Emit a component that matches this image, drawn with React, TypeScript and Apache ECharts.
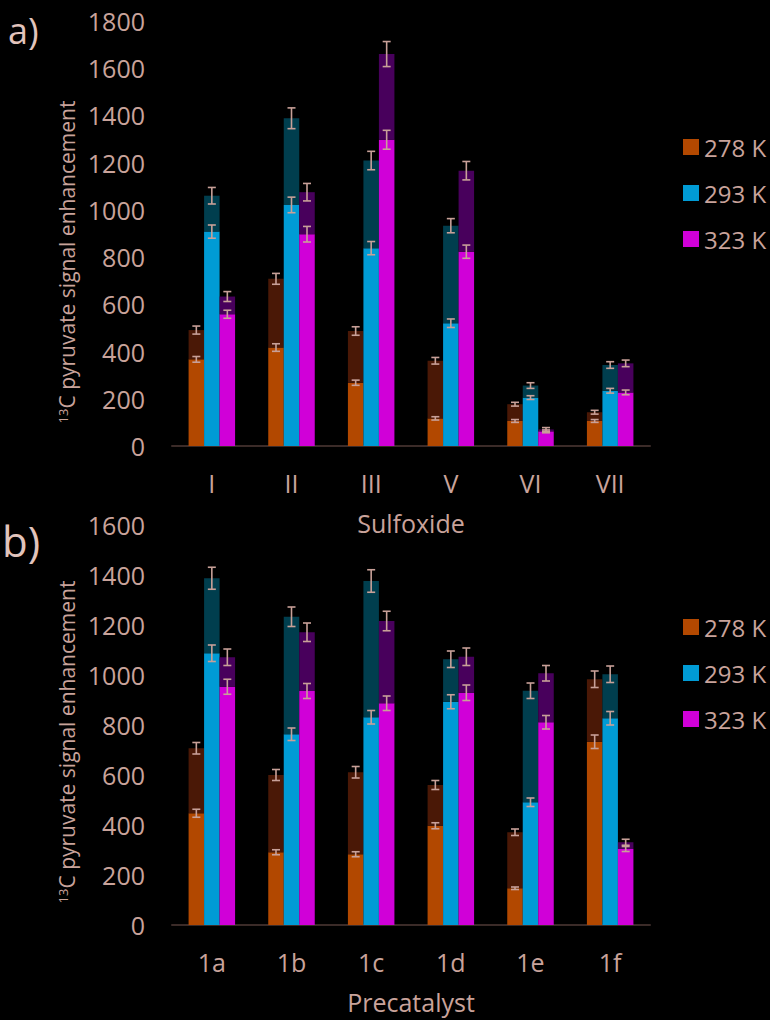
import React, { useEffect, useRef } from "react";
import * as echarts from "echarts";

// ---------- data ----------
const sulfoxides = ["I", "II", "III", "V", "VI", "VII"];
const precatalysts = ["1a", "1b", "1c", "1d", "1e", "1f"];
const temps = ["278 K", "293 K", "323 K"];

// Panel a (sulfoxide) – lower (bright) part and total (dark top) with errors
const aLow278 = [367, 417, 268, 117, 106, 106];
const aLow278Err = [12, 16, 11, 7, 6, 6];
const aTot278 = [491, 708, 487, 361, 177, 143];
const aTot278Err = [17, 23, 18, 14, 8, 8];

const aLow293 = [908, 1021, 838, 520, 205, 234];
const aLow293Err = [28, 33, 28, 18, 8, 10];
const aTot293 = [1060, 1388, 1209, 933, 256, 343];
const aTot293Err = [35, 44, 39, 30, 12, 14];

const aLow323 = [558, 897, 1297, 823, 62, 227];
const aLow323Err = [17, 33, 40, 28, 6, 10];
const aTot323 = [633, 1075, 1660, 1166, 70, 350];
const aTot323Err = [21, 37, 53, 39, 8, 14];

// Panel b (precatalyst)
const bLow278 = [447, 291, 283, 397, 147, 733];
const bLow278Err = [16, 10, 10, 12, 5, 27];
const bTot278 = [707, 600, 611, 560, 371, 983];
const bTot278Err = [23, 22, 23, 18, 13, 33];

const bLow293 = [1087, 763, 831, 893, 491, 827];
const bLow293Err = [33, 25, 27, 28, 17, 27];
const bTot293 = [1387, 1233, 1376, 1063, 937, 1003];
const bTot293Err = [44, 39, 45, 33, 31, 33];

const bLow323 = [953, 936, 887, 929, 811, 304];
const bLow323Err = [30, 30, 29, 31, 27, 10];
const bTot323 = [1071, 1171, 1216, 1073, 1007, 331];
const bTot323Err = [33, 37, 39, 35, 31, 12];

// ---------- style ----------
const BRIGHT = ["#b24800", "#009bd5", "#d000d8"];
const DARK = ["#4a1806", "#003e4e", "#48005c"];
const TEXT = "#c9a39b";
const ERR = "#c8a098";
const AXIS = "#3b2b28";
const FONT = "Open Sans";
const BAR_W = 15.5;
const CAP = 4;

type Panel = {
  low: number[][];
  lowErr: number[][];
  tot: number[][];
  totErr: number[][];
};

const panelA: Panel = {
  low: [aLow278, aLow293, aLow323],
  lowErr: [aLow278Err, aLow293Err, aLow323Err],
  tot: [aTot278, aTot293, aTot323],
  totErr: [aTot278Err, aTot293Err, aTot323Err],
};
const panelB: Panel = {
  low: [bLow278, bLow293, bLow323],
  lowErr: [bLow278Err, bLow293Err, bLow323Err],
  tot: [bTot278, bTot293, bTot323],
  totErr: [bTot278Err, bTot293Err, bTot323Err],
};

function buildSeries(p: Panel, g: number) {
  const out: any[] = [];
  const errData: number[][] = [];
  for (let t = 0; t < 3; t++) {
    out.push({
      type: "bar",
      name: temps[t],
      stack: `g${g}t${t}`,
      xAxisIndex: g,
      yAxisIndex: g,
      barWidth: BAR_W,
      barGap: "0%",
      itemStyle: { color: BRIGHT[t] },
      data: p.low[t],
    });
    out.push({
      type: "bar",
      name: temps[t] + " total",
      stack: `g${g}t${t}`,
      xAxisIndex: g,
      yAxisIndex: g,
      barWidth: BAR_W,
      barGap: "0%",
      itemStyle: { color: DARK[t] },
      data: p.tot[t].map((v, i) => v - p.low[t][i]),
    });
    p.low[t].forEach((v, i) => errData.push([i, v, p.lowErr[t][i], t]));
    p.tot[t].forEach((v, i) => errData.push([i, v, p.totErr[t][i], t]));
  }
  out.push({
    type: "custom",
    name: "err" + g,
    xAxisIndex: g,
    yAxisIndex: g,
    z: 5,
    silent: true,
    encode: { x: 0, y: 1 },
    data: errData,
    renderItem: (_params: any, api: any) => {
      const i = api.value(0);
      const v = api.value(1);
      const e = api.value(2);
      const slot = api.value(3);
      const c = api.coord([i, v]);
      const x = c[0] + (slot - 1) * BAR_W;
      const yHi = api.coord([i, v + e])[1];
      const yLo = api.coord([i, Math.max(0, v - e)])[1];
      const style = { stroke: ERR, lineWidth: 1.6 };
      return {
        type: "group",
        children: [
          { type: "line", shape: { x1: x, y1: yHi, x2: x, y2: yLo }, style },
          { type: "line", shape: { x1: x - CAP, y1: yHi, x2: x + CAP, y2: yHi }, style },
          { type: "line", shape: { x1: x - CAP, y1: yLo, x2: x + CAP, y2: yLo }, style },
        ],
      };
    },
  });
  return out;
}

function xAxis(cats: string[], name: string, g: number) {
  return {
    type: "category",
    gridIndex: g,
    data: cats,
    name,
    nameLocation: "middle",
    nameGap: 64,
    nameTextStyle: { color: TEXT, fontSize: 25, fontFamily: FONT },
    axisLine: { lineStyle: { color: AXIS, width: 2 } },
    axisTick: { show: false },
    axisLabel: { color: TEXT, fontSize: 25, fontFamily: FONT, margin: 24 },
  };
}

function yAxis(max: number, g: number) {
  return {
    type: "value",
    gridIndex: g,
    min: 0,
    max,
    interval: 200,
    axisLine: { show: false },
    axisTick: { show: false },
    splitLine: { show: false },
    axisLabel: {
      color: TEXT,
      fontSize: 25,
      fontFamily: FONT,
      margin: 27,
      formatter: (v: number) => String(v),
    },
  };
}

function yTitle(cx: number, cy: number) {
  return {
    type: "text",
    x: cx,
    y: cy,
    rotation: Math.PI / 2,
    style: {
      text: "{sup|13}C pyruvate signal enhancement",
      fill: TEXT,
      fontSize: 21,
      fontFamily: FONT,
      align: "center",
      verticalAlign: "middle",
      rich: {
        sup: { fontSize: 13, fill: TEXT, fontFamily: FONT, verticalAlign: "top" },
      },
    },
  };
}

function legend(top: number) {
  return {
    orient: "vertical",
    left: 678,
    top,
    itemWidth: 16,
    itemHeight: 16,
    itemGap: 20,
    icon: "rect",
    data: temps,
    textStyle: { color: TEXT, fontSize: 24, fontFamily: FONT, lineHeight: 26 },
  };
}

export default function App() {
  const ref = useRef<HTMLDivElement>(null);
  useEffect(() => {
    if (!ref.current) return;
    const chart = echarts.init(ref.current, undefined, { renderer: "svg" });
    chart.setOption({
      animation: false,
      backgroundColor: "#000",
      textStyle: { fontFamily: FONT },
      grid: [
        { left: 172, right: 120, top: 21, bottom: 1020 - 446 },
        { left: 172, right: 120, top: 525, bottom: 1020 - 925 },
      ],
      xAxis: [xAxis(sulfoxides, "Sulfoxide", 0), xAxis(precatalysts, "Precatalyst", 1)],
      yAxis: [yAxis(1800, 0), yAxis(1600, 1)],
      legend: [legend(129), legend(609)],
      series: [...buildSeries(panelA, 0), ...buildSeries(panelB, 1)],
      graphic: [
        yTitle(67, 262),
        yTitle(67, 742),
        {
          type: "text",
          x: 8,
          y: 30,
          style: { text: "a)", fill: "#e2c4bc", fontSize: 36, fontFamily: FONT, verticalAlign: "middle" },
        },
        {
          type: "text",
          x: 2,
          y: 540,
          style: { text: "b)", fill: "#e2c4bc", fontSize: 42, fontFamily: FONT, verticalAlign: "middle" },
        },
      ],
    });
    return () => chart.dispose();
  }, []);
  return (
    <div
      ref={ref}
      style={{ position: "absolute", left: 0, top: 0, width: 770, height: 1020, background: "#000" }}
    />
  );
}
